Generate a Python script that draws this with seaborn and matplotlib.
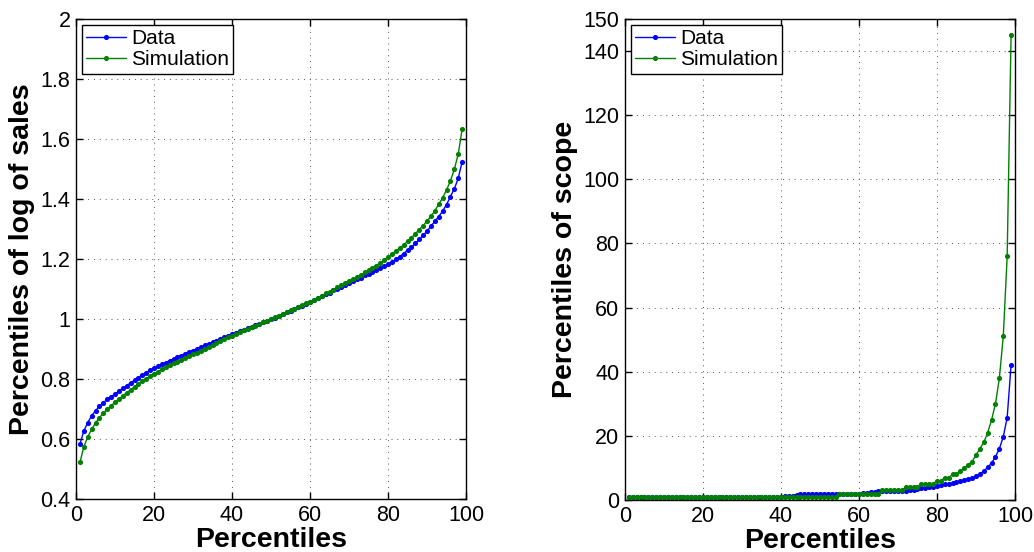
import numpy as np
import pandas as pd
import matplotlib
matplotlib.use("Agg")
import matplotlib.pyplot as plt
import seaborn as sns

# ---------------- data ----------------
percentiles = list(range(1, 100))

sales_data = [
    0.582, 0.627, 0.654, 0.678, 0.694, 0.709, 0.721, 0.732, 0.741, 0.750,
    0.760, 0.769, 0.778, 0.787, 0.796, 0.805, 0.813, 0.821, 0.829, 0.837,
    0.843, 0.849, 0.855, 0.861, 0.867, 0.873, 0.878, 0.884, 0.890, 0.895,
    0.901, 0.906, 0.912, 0.917, 0.923, 0.928, 0.934, 0.939, 0.945, 0.950,
    0.955, 0.960, 0.965, 0.970, 0.975, 0.980, 0.985, 0.990, 0.995, 1.000,
    1.005, 1.011, 1.016, 1.022, 1.027, 1.033, 1.039, 1.045, 1.051, 1.057,
    1.063, 1.069, 1.076, 1.082, 1.088, 1.095, 1.101, 1.107, 1.114, 1.120,
    1.126, 1.132, 1.138, 1.145, 1.151, 1.157, 1.163, 1.169, 1.175, 1.182,
    1.190, 1.199, 1.208, 1.218, 1.229, 1.240, 1.252, 1.265, 1.279, 1.293,
    1.309, 1.326, 1.341, 1.360, 1.381, 1.408, 1.434, 1.469, 1.524,
]

sales_sim = [
    0.522, 0.573, 0.607, 0.632, 0.653, 0.671, 0.686, 0.699, 0.711, 0.722,
    0.733, 0.744, 0.754, 0.764, 0.774, 0.783, 0.792, 0.801, 0.810, 0.818,
    0.825, 0.832, 0.839, 0.846, 0.852, 0.858, 0.864, 0.870, 0.876, 0.882,
    0.888, 0.894, 0.901, 0.907, 0.913, 0.920, 0.926, 0.932, 0.939, 0.945,
    0.951, 0.956, 0.962, 0.967, 0.973, 0.978, 0.984, 0.989, 0.995, 1.000,
    1.006, 1.011, 1.017, 1.023, 1.029, 1.035, 1.041, 1.046, 1.052, 1.058,
    1.065, 1.071, 1.078, 1.085, 1.091, 1.098, 1.105, 1.112, 1.119, 1.126,
    1.133, 1.140, 1.147, 1.155, 1.162, 1.170, 1.178, 1.187, 1.196, 1.206,
    1.216, 1.226, 1.236, 1.247, 1.259, 1.271, 1.284, 1.298, 1.311, 1.327,
    1.342, 1.361, 1.382, 1.404, 1.430, 1.460, 1.499, 1.550, 1.632,
]

scope_data = (
    [1.0] * 40
    + [1.1, 1.2, 1.4, 1.6, 1.8, 1.9, 2.0, 2.0, 2.0, 2.0]
    + [2.0] * 10
    + [2.1, 2.2, 2.4, 2.6, 2.7, 2.7, 2.8, 2.8, 2.8, 2.8]
    + [2.9, 2.9, 3.0, 3.1, 3.4, 3.6, 3.7, 4.1, 4.2, 4.4]
    + [4.6, 4.9, 5.1, 5.3, 5.6, 5.8, 6.1, 6.5, 6.8, 7.4]
    + [8.1, 9.0, 10.2, 11.5, 13.5, 16.0, 19.7, 25.7, 42.1]
)

scope_sim = (
    [1] * 54 + [2] * 11 + [3] * 6 + [4] * 4 + [5] * 4 + [6] * 2 + [7] * 2 + [8] * 2
    + [9, 10, 11, 12, 14, 16, 18, 21, 25, 30, 38, 51, 76, 145]
)

series_labels = ["Data", "Simulation"]
x_ticks = [0, 20, 40, 60, 80, 100]
left_yticks = [0.4, 0.6, 0.8, 1.0, 1.2, 1.4, 1.6, 1.8, 2.0]
left_yticklabels = ["0.4", "0.6", "0.8", "1", "1.2", "1.4", "1.6", "1.8", "2"]
right_yticks = [0, 20, 40, 60, 80, 100, 120, 140, 150]
right_yticklabels = ["0", "20", "40", "60", "80", "100", "120", "140", "150"]

# ---------------- style ----------------
sns.set_style("ticks")
plt.rcParams["font.family"] = ["Liberation Sans", "DejaVu Sans"]
plt.rcParams["text.color"] = "black"
plt.rcParams["axes.labelcolor"] = "black"
plt.rcParams["xtick.color"] = "black"
plt.rcParams["ytick.color"] = "black"

BLUE = "#0000ff"
GREEN = "#008000"
TICK_FS = 15.5
LABEL_FS = 20.5

fig = plt.figure(figsize=(10.34, 5.52), dpi=100)
ax1 = fig.add_axes([0.0735, 0.096, 0.3772, 0.8696])
ax2 = fig.add_axes([0.6044, 0.0942, 0.3772, 0.8714])


def draw(ax, y_data, y_sim):
    sns.lineplot(x=percentiles, y=y_data, ax=ax, color=BLUE, marker="o",
                 markersize=3.7, markeredgewidth=0, linewidth=1.0,
                 label=series_labels[0])
    sns.lineplot(x=percentiles, y=y_sim, ax=ax, color=GREEN, marker="o",
                 markersize=3.7, markeredgewidth=0, linewidth=1.0,
                 label=series_labels[1])
    ax.set_xlim(0, 100)
    ax.set_xticks(x_ticks)
    ax.set_axisbelow(True)
    ax.grid(True, linestyle=(0, (1, 5)), color="#555555", linewidth=0.7)
    ax.tick_params(direction="in", top=True, right=True, length=5, width=1,
                   labelsize=TICK_FS, colors="black", pad=4)
    for s in ax.spines.values():
        s.set_visible(True)
        s.set_color("black")
        s.set_linewidth(1.0)
    ax.set_xlabel("Percentiles", fontsize=LABEL_FS, fontweight="bold",
                  labelpad=1, color="black")
    leg = ax.legend(loc="upper left", fontsize=TICK_FS - 0.5, frameon=True,
                    fancybox=False, edgecolor="black", framealpha=1,
                    handlelength=1.9, numpoints=1, borderpad=0.2,
                    labelspacing=0.1, handletextpad=0.25, borderaxespad=0.3)
    leg.get_frame().set_linewidth(1.0)
    for t in leg.get_texts():
        t.set_color("black")


draw(ax1, sales_data, sales_sim)
ax1.set_ylim(0.4, 2.0)
ax1.set_yticks(left_yticks)
ax1.set_yticklabels(left_yticklabels)
ax1.set_ylabel("Percentiles of log of sales", fontsize=LABEL_FS,
               fontweight="bold", labelpad=4, color="black")

draw(ax2, scope_data, scope_sim)
ax2.set_ylim(0, 150)
ax2.set_yticks(right_yticks)
ax2.set_yticklabels(right_yticklabels)
ax2.set_ylabel("Percentiles of scope", fontsize=LABEL_FS, fontweight="bold",
               labelpad=4, color="black")

fig.savefig("out.png", dpi=100)
